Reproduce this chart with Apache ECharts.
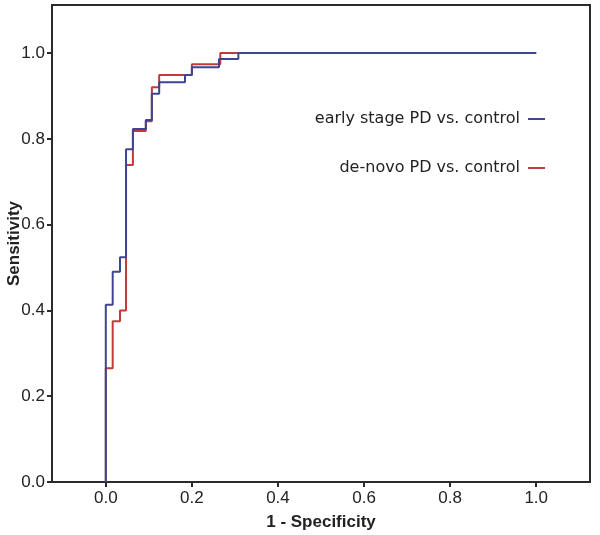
<!DOCTYPE html>
<html>
<head>
<meta charset="utf-8">
<script src="https://cdn.jsdelivr.net/npm/echarts@6/dist/echarts.min.js"></script>
<style>html,body{margin:0;padding:0;background:#fff}#c{width:600px;height:535px}</style>
</head>
<body>
<div id="c"></div>
<script>
const tickValues = [0, 0.2, 0.4, 0.6, 0.8, 1.0];
const seriesNames = ['early stage PD vs. control', 'de-novo PD vs. control'];
// ROC points (1 - specificity, sensitivity)
const earlyFpr = [0, 0, 0.016, 0.033, 0.047, 0.063, 0.093, 0.107, 0.124, 0.184, 0.2, 0.263, 0.308, 1.0];
const earlyTpr = [0, 0.413, 0.49, 0.524, 0.776, 0.823, 0.844, 0.905, 0.932, 0.949, 0.967, 0.986, 1.0, 1.0];
const denovoFpr = [0, 0, 0.016, 0.033, 0.047, 0.063, 0.093, 0.107, 0.124, 0.2, 0.266, 1.0];
const denovoTpr = [0, 0.265, 0.375, 0.40, 0.739, 0.818, 0.841, 0.92, 0.949, 0.974, 1.0, 1.0];

const BLUE = '#3e4693';
const RED = '#c23a3a';
const zip = (a, b) => a.map((v, i) => [v, b[i]]);

const chart = echarts.init(document.getElementById('c'), null, {renderer: 'canvas'});
const labelStyle = {fontFamily: 'Liberation Sans', fontSize: 17, color: '#222'};
const legendText = {fontFamily: 'DejaVu Sans', fontSize: 16, color: '#222', padding: [0, 3, 0, 0]};
chart.setOption({
  animation: false,
  grid: {left: 52, top: 5, right: 10, bottom: 53, show: true, borderColor: '#2a2a2a', borderWidth: 2, backgroundColor: '#fff',
         containLabel: false, outerBoundsMode: 'none'},
  legend: [
    {data: [{name: seriesNames[0]}], right: 50, top: 106, orient: 'vertical', align: 'right', icon: 'rect', itemWidth: 17, itemHeight: 2,
     textStyle: legendText, selectedMode: false},
    {data: [{name: seriesNames[1]}], right: 50, top: 155, orient: 'vertical', align: 'right', icon: 'rect', itemWidth: 17, itemHeight: 2,
     textStyle: legendText, selectedMode: false}
  ],
  xAxis: {
    type: 'value', min: -0.125, max: 1.125,
    name: '1 - Specificity', nameLocation: 'middle', nameGap: 32, nameMoveOverlap: false,
    nameTextStyle: {fontFamily: 'Liberation Sans', fontSize: 17, fontWeight: 'bold', color: '#222'},
    axisLine: {show: true, onZero: false, lineStyle: {color: '#2a2a2a', width: 2}},
    axisTick: {show: true, length: 5, customValues: tickValues, lineStyle: {color: '#2a2a2a', width: 2}},
    axisLabel: Object.assign({customValues: tickValues, margin: 8, formatter: v => v.toFixed(1)}, labelStyle),
    splitLine: {show: false}
  },
  yAxis: {
    type: 'value', min: 0, max: 1.112,
    name: 'Sensitivity', nameLocation: 'middle', nameGap: 29, nameMoveOverlap: false,
    nameTextStyle: {fontFamily: 'Liberation Sans', fontSize: 17, fontWeight: 'bold', color: '#222'},
    axisLine: {show: true, onZero: false, lineStyle: {color: '#2a2a2a', width: 2}},
    axisTick: {show: true, length: 5, customValues: tickValues, lineStyle: {color: '#2a2a2a', width: 2}},
    axisLabel: Object.assign({customValues: tickValues, margin: 7, formatter: v => v.toFixed(1)}, labelStyle),
    splitLine: {show: false}
  },
  series: [
    {name: seriesNames[1], type: 'line', step: 'end', showSymbol: false, data: zip(denovoFpr, denovoTpr),
     color: RED, lineStyle: {color: RED, width: 2}, z: 2},
    {name: seriesNames[0], type: 'line', step: 'end', showSymbol: false, data: zip(earlyFpr, earlyTpr),
     color: BLUE, lineStyle: {color: BLUE, width: 2}, z: 3}
  ]
});
</script>
</body>
</html>
